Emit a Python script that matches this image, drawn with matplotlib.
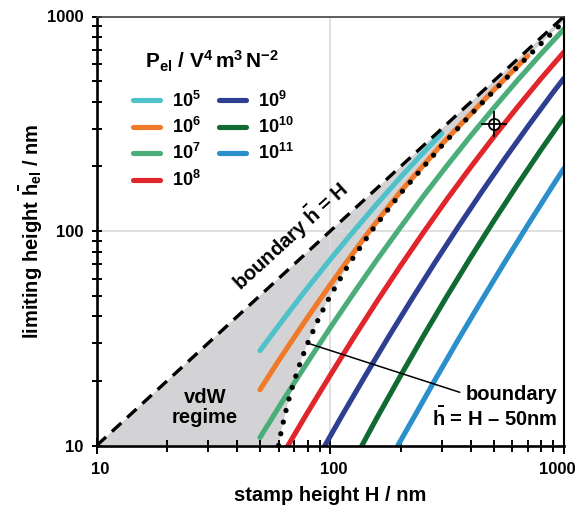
import matplotlib
matplotlib.use('Agg')
import matplotlib.pyplot as plt
from matplotlib import transforms

plt.rcParams['font.family'] = ['Liberation Sans', 'DejaVu Sans']
plt.rcParams['font.weight'] = 'bold'
plt.rcParams['mathtext.fontset'] = 'custom'
plt.rcParams['mathtext.rm'] = 'Liberation Sans:bold'
plt.rcParams['mathtext.it'] = 'Liberation Sans:bold'
plt.rcParams['mathtext.bf'] = 'Liberation Sans:bold'
plt.rcParams['mathtext.sf'] = 'Liberation Sans:bold'
plt.rcParams['mathtext.default'] = 'rm'

# ---------------- data ----------------
p_labels = [r'$10^{5}$', r'$10^{6}$', r'$10^{7}$', r'$10^{8}$',
            r'$10^{9}$', r'$10^{10}$', r'$10^{11}$']
colors = ['#4EC1C9', '#F07A2A', '#4BAE7A', '#E0262B',
          '#2E3F91', '#116A33', '#2A8FCB']

H_p5 = [50, 63.1, 79.4, 100, 126, 158.5, 199.5, 251, 300]
h_p5 = [27.7, 38.9, 53.9, 73.8, 100, 134, 178, 233, 285]
H_p6 = [50, 60, 70, 80, 90, 100, 120, 148, 200, 300, 500, 700]
h_p6 = [18.2, 24.8, 31.9, 39.6, 47.7, 56.2, 74.2, 101, 153, 254, 454, 655]
H_p7 = [50, 63.1, 79.4, 100, 126, 158.5, 199.5, 251, 316, 398, 501, 631, 794, 1000]
h_p7 = [10.9, 16.4, 24.2, 35.5, 51.4, 73.6, 104, 146, 202, 277, 375, 503, 666, 874]
H_p8 = [65.9, 79.4, 100, 126, 158.5, 199.5, 251, 316, 398, 501, 631, 794, 1000]
h_p8 = [10, 14.1, 21.3, 31.9, 47.1, 68.7, 98.9, 141, 198, 275, 377, 511, 683]
H_p9 = [94.8, 112.2, 141.3, 177.8, 223.9, 281.8, 354.8, 446.7, 562.3, 707.9, 891.3, 1000]
h_p9 = [10, 13.8, 21.2, 32.2, 48.4, 71.9, 105.6, 153.4, 220, 312, 438, 516]
H_p10 = [136.5, 158.5, 199.5, 251, 316, 398, 501, 631, 794, 1000]
h_p10 = [10, 13.5, 21.1, 32.6, 49.8, 75.1, 111.6, 163.9, 237.6, 340]
H_p11 = [194.5, 223.9, 281.8, 354.8, 446.7, 562.3, 707.9, 891.3, 1000]
h_p11 = [10, 13.1, 20.4, 31.5, 48.0, 72.6, 108.8, 161.6, 196]

series_H = [H_p5, H_p6, H_p7, H_p8, H_p9, H_p10, H_p11]
series_h = [h_p5, h_p6, h_p7, h_p8, h_p9, h_p10, h_p11]

# boundary h = H (dashed)
diag_H = [10, 1000]
diag_h = [10, 1000]
# boundary h = H - 50 nm (dotted)
bnd_H = [60, 61, 62, 64, 67, 70, 75, 80, 90, 100, 120, 150, 200, 300, 400, 600, 800, 1000]
bnd_h = [10, 11, 12, 14, 17, 20, 25, 30, 40, 50, 70, 100, 150, 250, 350, 550, 750, 950]

marker_H = [500]
marker_h = [315]

xticks = [10, 100, 1000]
xtick_labels = ['10', '100', '1000']
yticks = [10, 100, 1000]
ytick_labels = ['10', '100', '1000']

# ---------------- figure ----------------
fig = plt.figure(figsize=(5.79, 5.07), dpi=100)
fig.subplots_adjust(left=96.7/579, right=564/579, bottom=1-445.5/507, top=1-16.5/507)
ax = fig.add_subplot(111)
ax.set_xscale('log')
ax.set_yscale('log')
ax.set_xlim(10, 1000)
ax.set_ylim(10, 1000)

# gray vdW region: between h = H and h = H - 50
poly_x = [10] + [diag_H[-1]] + bnd_H[::-1] + [10]
poly_y = [10] + [diag_h[-1]] + bnd_h[::-1] + [10]
ax.fill(poly_x, poly_y, color='#D3D3D6', lw=0, zorder=0.2)

ax.set_axisbelow(True)
ax.grid(True, which='major', color='#DADADA', lw=1.2)
ax.grid(False, which='minor')

handles = []
for H, h, c, lab in zip(series_H, series_h, colors, p_labels):
    ln, = ax.plot(H, h, color=c, lw=3.7, solid_capstyle='round',
                  solid_joinstyle='round', label=lab, zorder=2)
    handles.append(ln)

ax.plot(diag_H, diag_h, color='black', lw=2.4, dashes=(3.8, 2.4), zorder=3)
ax.plot(bnd_H, bnd_h, color='black', lw=3.8, dashes=(0.01, 2.25),
        dash_capstyle='round', zorder=4, clip_on=False)

ax.plot(marker_H, marker_h, marker='o', ms=8, mfc='none', mec='black', mew=1.3, ls='none', zorder=5)
ax.plot(marker_H, marker_h, marker='+', ms=19, mec='black', mew=1.3, ls='none', zorder=5)

# spines and ticks
for s in ['left', 'bottom']:
    ax.spines[s].set_linewidth(1.9)
ax.spines['right'].set_linewidth(1.5)
ax.spines['top'].set_linewidth(1.2)
ax.spines['top'].set_color('#444444')

ax.set_xticks(xticks)
ax.set_yticks(yticks)
ax.set_xticklabels([])
ax.set_yticklabels(ytick_labels)
ax.tick_params(axis='x', which='major', direction='inout', length=11, width=1.4)
ax.tick_params(axis='x', which='minor', direction='inout', length=8.5, width=1.4)
ax.tick_params(axis='y', which='major', direction='inout', length=7, width=1.4, pad=6)
ax.tick_params(axis='y', which='minor', direction='inout', length=6.5, width=1.4)
ax.tick_params(axis='y', labelsize=12)
ax.yaxis.set_minor_formatter(matplotlib.ticker.NullFormatter())
ax.xaxis.set_minor_formatter(matplotlib.ticker.NullFormatter())
for lbl in ax.get_yticklabels():
    lbl.set_fontweight('bold')

xt = ax.get_xaxis_transform()
for i, (v, s) in enumerate(zip(xticks, xtick_labels)):
    dx = -7 if i == len(xticks) - 1 else 3
    tr = transforms.offset_copy(xt, fig=fig, x=dx, y=-16, units='dots')
    ax.text(v, 0, s, transform=tr, ha='center', va='top', fontsize=12, fontweight='bold')

ax.set_xlabel('stamp height H / nm', fontsize=14.5, fontweight='bold', labelpad=20)
ax.set_ylabel(r'limiting height $\bar{h}_{el}$ / nm', fontsize=14.5, fontweight='bold', labelpad=1.5)

# annotations
ax.text(67, 95, r'boundary $\bar{h}$ = H', rotation=42.5, rotation_mode='anchor',
        ha='center', va='center', fontsize=14.5, fontweight='bold')
ax.text(29.1, 15.0, 'vdW\nregime', ha='center', va='center', fontsize=14.5,
        fontweight='bold', linespacing=1.1)
ax.text(942, 15.0, 'boundary\n' + r'$\bar{h}$ = H – 50nm', ha='right', va='center',
        fontsize=14.5, fontweight='bold', linespacing=1.15)
ax.annotate('', xy=(80, 30), xytext=(358, 17.7),
            arrowprops=dict(arrowstyle='-', color='black', lw=1.1, shrinkA=0, shrinkB=0))

# legend
fig.text(212/579, 1 - 69/507, r'$P_{el}$ / $V^{4}\,m^{3}\,N^{-2}$', ha='center',
         va='baseline', fontsize=15, fontweight='bold')
leg = ax.legend(handles=handles, ncol=2, loc='upper left',
                bbox_to_anchor=(0.051, 0.857), frameon=False,
                prop={'size': 13, 'weight': 'bold'},
                handlelength=1.5, handletextpad=0.65, columnspacing=1.0,
                labelspacing=0.35, borderpad=0.2)

fig.savefig('out.png', dpi=100)
